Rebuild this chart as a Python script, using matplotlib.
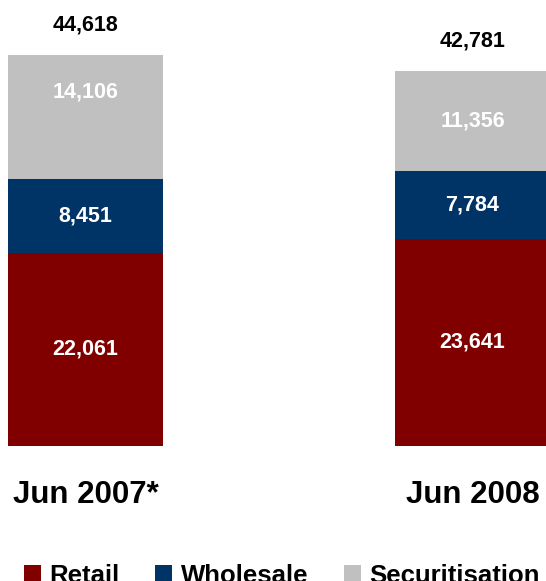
import matplotlib
matplotlib.use("Agg")
import matplotlib.pyplot as plt
from matplotlib.patches import Patch

plt.rcParams['font.family'] = ['Liberation Sans', 'DejaVu Sans']
plt.rcParams['font.weight'] = 'bold'

periods = ["Jun 2007*", "Jun 2008"]
series = ["Retail", "Wholesale", "Securitisation"]
retail = [22061, 23641]
wholesale = [8451, 7784]
securitisation = [14106, 11356]
totals = [44618, 42781]
colors = ["#800000", "#003366", "#C0C0C0"]

# vertical nudge (points) for in-bar labels, per series and bar
label_lift = [[0, 0], [0, 0], [17.5, 0]]

fig = plt.figure(figsize=(5.46, 5.81), dpi=100)
ax = fig.add_axes([0, 0.2324, 1, 0.7676])

x = [0, 1]
bottom = [0, 0]
for vals, col, lift in zip([retail, wholesale, securitisation], colors, label_lift):
    ax.bar(x, vals, width=0.4, bottom=bottom, color=col, linewidth=0)
    for xi, v, b, dy in zip(x, vals, bottom, lift):
        ax.annotate(f"{v:,}", (xi, b + v / 2), xytext=(0, dy),
                    textcoords="offset points", ha="center", va="center",
                    color="white", fontsize=15.5, fontweight="bold")
    bottom = [b + v for b, v in zip(bottom, vals)]

for xi, t in zip(x, totals):
    ax.annotate(f"{t:,}", (xi, t), xytext=(0, 21.5),
                textcoords="offset points", ha="center", va="center",
                color="black", fontsize=15.5, fontweight="bold")

ax.set_xlim(-0.2209, 1.19)
ax.set_ylim(0, 50890)
ax.axis("off")

for xi, lab in zip(x, periods):
    ax.annotate(lab, (xi, 0), xytext=(0, -35), textcoords="offset points",
                ha="center", va="center", fontsize=22.5, fontweight="bold",
                annotation_clip=False)

handles = [Patch(facecolor=c, edgecolor="none") for c in colors]
fig.legend(handles, series, loc="center", bbox_to_anchor=(0.516, 0.009),
           ncol=3, frameon=False, handlelength=0.66,
           handleheight=0.66, handletextpad=0.34, columnspacing=1.38,
           prop={"weight": "bold", "size": 18.5})

fig.savefig("out.png", dpi=100)
